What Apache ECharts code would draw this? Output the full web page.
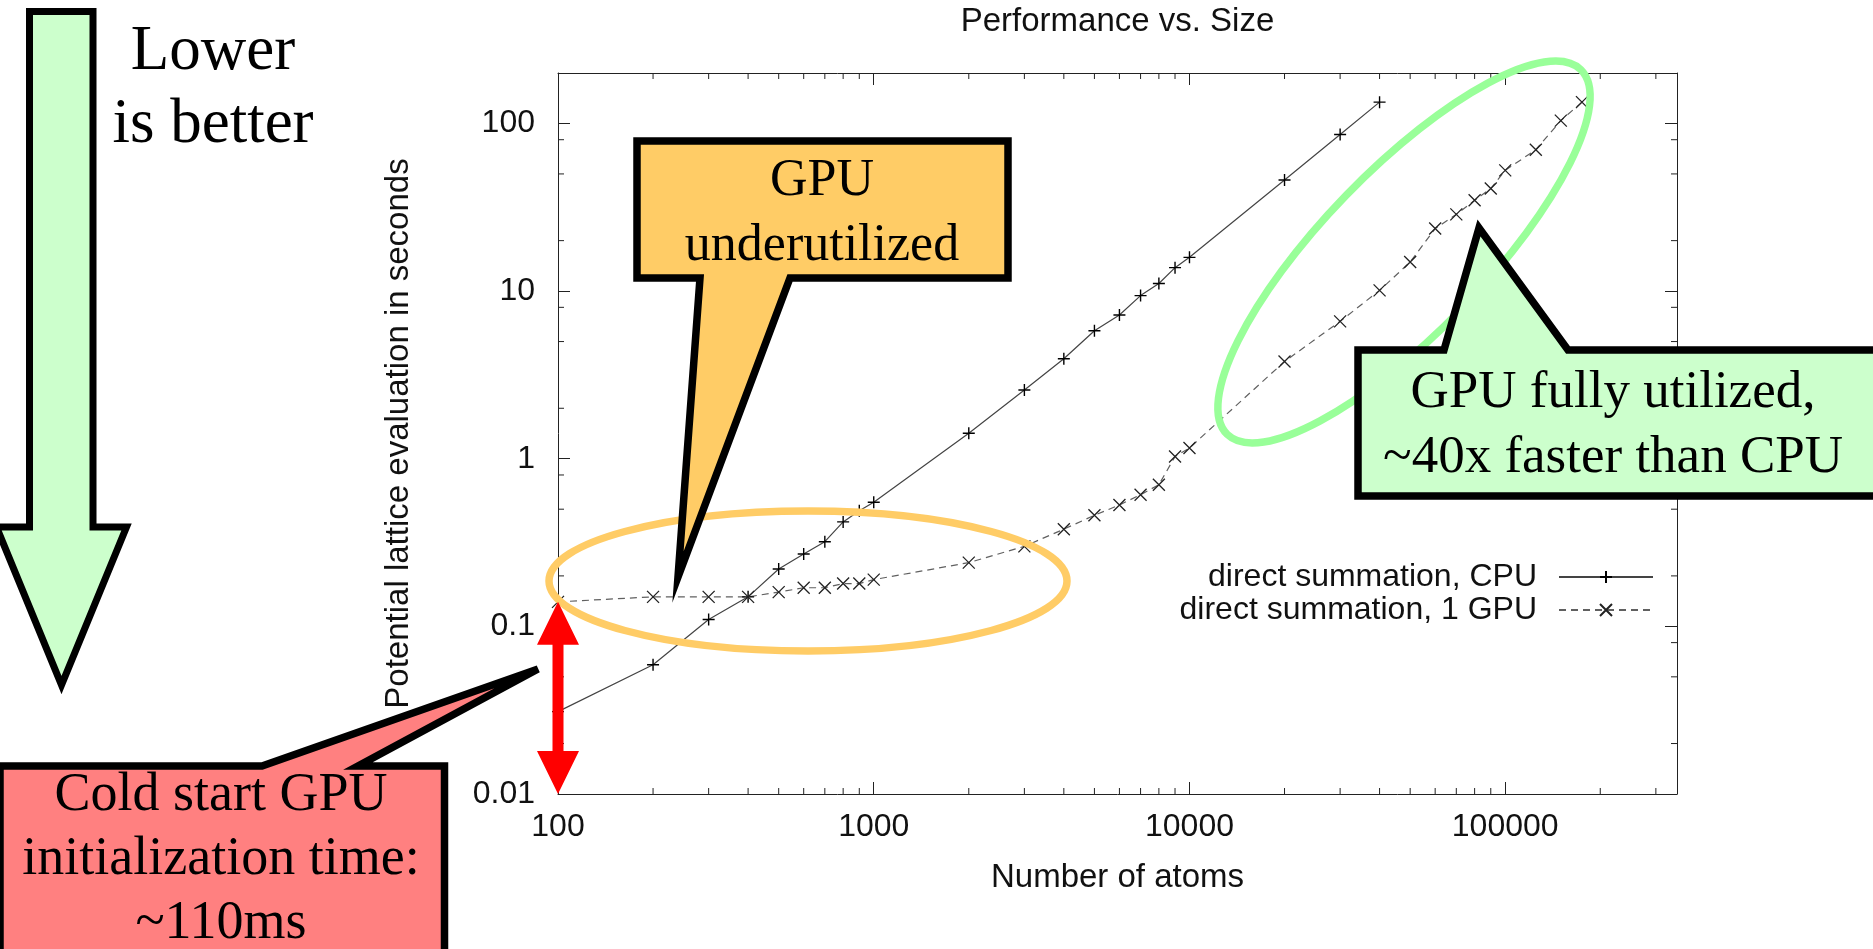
<!DOCTYPE html>
<html>
<head>
<meta charset="utf-8">
<script src="https://cdn.jsdelivr.net/npm/echarts@6/dist/echarts.min.js"></script>
<style>
html,body{margin:0;padding:0;background:#fff;}
#chart{width:1873px;height:949px;}
</style>
</head>
<body>
<div id="chart"></div>
<script>
// ---------- data ----------
const chartTitle = 'Performance vs. Size';
const xAxisTitle = 'Number of atoms';
const yAxisTitle = 'Potential lattice evaluation in seconds';
const cpuName = 'direct summation, CPU';
const gpuName = 'direct summation, 1 GPU';

const cpuAtoms   = [100, 200, 300, 400, 500, 600, 700, 800, 900, 1000, 2000, 3000, 4000, 5000, 6000, 7000, 8000, 9000, 10000, 20000, 30000, 40000];
const cpuSeconds = [0.031, 0.059, 0.11, 0.15, 0.22, 0.27, 0.32, 0.42, 0.49, 0.55, 1.42, 2.57, 3.95, 5.8, 7.2, 9.4, 11.1, 13.8, 15.9, 46, 86, 134];

const gpuAtoms   = [100, 200, 300, 400, 500, 600, 700, 800, 900, 1000, 2000, 3000, 4000, 5000, 6000, 7000, 8000, 9000, 10000, 20000, 30000, 40000, 50000, 60000, 70000, 80000, 90000, 100000, 125000, 150000, 175000];
const gpuSeconds = [0.14, 0.15, 0.15, 0.15, 0.16, 0.17, 0.17, 0.18, 0.18, 0.19, 0.24, 0.30, 0.38, 0.46, 0.53, 0.61, 0.70, 1.03, 1.16, 3.8, 6.6, 10.1, 14.9, 23.6, 28.7, 34.8, 40.9, 52.5, 69.7, 104, 134];

const xRange = [100, 350000];
const yRange = [0.01, 200];
const xTickValues = [100, 1000, 10000, 100000];
const xTickLabels = ['100', '1000', '10000', '100000'];
const yTickValues = [0.01, 0.1, 1, 10, 100];
const yTickLabels = ['0.01', '0.1', '1', '10', '100'];
const xMinorTicks = [200, 300, 400, 500, 600, 700, 800, 900,
                     2000, 3000, 4000, 5000, 6000, 7000, 8000, 9000,
                     20000, 30000, 40000, 50000, 60000, 70000, 80000, 90000,
                     200000, 300000];
const yMinorTicks = [0.02, 0.05, 0.08, 0.2, 0.5, 0.8, 2, 5, 8, 20, 50, 80];

const noteLower = 'Lower\nis better';
const noteUnder = 'GPU\nunderutilized';
const noteFull = 'GPU fully utilized,\n~40x faster than CPU';
const noteCold = 'Cold start GPU\ninitialization time:\n~110ms';

// ---------- helpers ----------
function labelFor(values, labels) {
  return function (v) {
    for (let i = 0; i < values.length; i++) {
      if (Math.abs(Math.log10(v) - Math.log10(values[i])) < 1e-6) return labels[i];
    }
    return '';
  };
}
const sansFont = 'Liberation Sans';
const serifFont = 'Liberation Serif';
const axisColor = '#222';

function logAxis(pos, range, showLabels, values, labels, extra) {
  return Object.assign({
    type: 'log',
    logBase: 10,
    position: pos,
    min: range[0],
    max: range[1],
    splitLine: { show: false },
    axisLine: { show: true, onZero: false, lineStyle: { color: axisColor, width: 1 } },
    axisTick: { show: true, inside: true, length: 12, lineStyle: { color: axisColor, width: 1 } },
    minorTick: { show: false },
    axisLabel: {
      show: showLabels,
      formatter: labelFor(values, labels),
      fontFamily: sansFont,
      fontSize: 32,
      color: '#111',
      showMaxLabel: false
    }
  }, extra || {});
}

const plusSymbol = 'path://M0,5L10,5M5,0L5,10';
const crossSymbol = 'path://M0,0L10,10M10,0L0,10';

const chart = echarts.init(document.getElementById('chart'), null, { renderer: 'canvas' });

const option = {
  animation: false,
  backgroundColor: '#fff',
  title: {
    text: chartTitle,
    left: 1117.5,
    top: 5,
    padding: 0,
    textAlign: 'center',
    textStyle: { fontFamily: sansFont, fontSize: 33, fontWeight: 'normal', color: '#111' }
  },
  grid: { left: 558, right: 196, top: 73, bottom: 155, containLabel: false },
  legend: {
    data: [cpuName, gpuName],
    orient: 'vertical',
    right: 219,
    top: 560.5,
    align: 'right',
    itemWidth: 94,
    itemHeight: 15,
    itemGap: 0,
    padding: 0,
    selectedMode: false,
    textStyle: { fontFamily: sansFont, fontSize: 32, lineHeight: 33, color: '#111', padding: [0, 17, 0, 0] }
  },
  xAxis: [
    logAxis('bottom', xRange, true, xTickValues, xTickLabels, {
      name: xAxisTitle,
      nameLocation: 'middle',
      nameGap: 67,
      nameTextStyle: { fontFamily: sansFont, fontSize: 33, color: '#111' },
      axisLabel: {
        show: true, formatter: labelFor(xTickValues, xTickLabels),
        fontFamily: sansFont, fontSize: 32, color: '#111', margin: 17, showMaxLabel: false
      }
    }),
    logAxis('top', xRange, false, xTickValues, xTickLabels)
  ],
  yAxis: [
    logAxis('left', yRange, true, yTickValues, yTickLabels, {
      name: yAxisTitle,
      nameLocation: 'middle',
      nameGap: 143,
      nameTextStyle: { fontFamily: sansFont, fontSize: 33, color: '#111' },
      axisLabel: {
        show: true, formatter: labelFor(yTickValues, yTickLabels),
        fontFamily: sansFont, fontSize: 32, color: '#111', margin: 23, showMaxLabel: false
      }
    }),
    logAxis('right', yRange, false, yTickValues, yTickLabels)
  ],
  series: [
    {
      name: cpuName,
      type: 'line',
      xAxisIndex: 0, yAxisIndex: 0,
      data: cpuAtoms.map((x, i) => [x, cpuSeconds[i]]),
      symbol: plusSymbol,
      symbolSize: 12,
      showSymbol: true,
      lineStyle: { color: '#444', width: 1.2, type: 'solid' },
      itemStyle: { color: '#000', borderColor: '#000', borderWidth: 1.4 },
      emphasis: { disabled: true },
      z: 3
    },
    {
      name: gpuName,
      type: 'line',
      xAxisIndex: 0, yAxisIndex: 0,
      data: gpuAtoms.map((x, i) => [x, gpuSeconds[i]]),
      symbol: crossSymbol,
      symbolSize: 12,
      showSymbol: true,
      lineStyle: { color: '#606060', width: 1.2, type: [7, 5] },
      itemStyle: { color: '#222', borderColor: '#222', borderWidth: 1.3 },
      emphasis: { disabled: true },
      z: 3
    },
    {
      type: 'custom',
      xAxisIndex: 0, yAxisIndex: 0,
      data: xMinorTicks.map(v => [v, yRange[0]]),
      encode: { x: 0, y: 1 },
      silent: true,
      renderItem: function (params, api) {
        const cs = params.coordSys;
        const x = api.coord([api.value(0), yRange[0]])[0];
        const b = cs.y + cs.height, t = cs.y;
        return {
          type: 'group',
          children: [
            { type: 'line', shape: { x1: x, y1: b, x2: x, y2: b - 6 }, style: { stroke: axisColor, lineWidth: 1 } },
            { type: 'line', shape: { x1: x, y1: t, x2: x, y2: t + 6 }, style: { stroke: axisColor, lineWidth: 1 } }
          ]
        };
      },
      z: 2
    },
    {
      type: 'custom',
      xAxisIndex: 0, yAxisIndex: 0,
      data: yMinorTicks.map(v => [xRange[0], v]),
      encode: { x: 0, y: 1 },
      silent: true,
      renderItem: function (params, api) {
        const cs = params.coordSys;
        const y = api.coord([xRange[0], api.value(1)])[1];
        const l = cs.x, r = cs.x + cs.width;
        return {
          type: 'group',
          children: [
            { type: 'line', shape: { x1: l, y1: y, x2: l + 6, y2: y }, style: { stroke: axisColor, lineWidth: 1 } },
            { type: 'line', shape: { x1: r, y1: y, x2: r - 6, y2: y }, style: { stroke: axisColor, lineWidth: 1 } }
          ]
        };
      },
      z: 2
    }
  ]
};

chart.setOption(option);

// ---------- annotations ----------
const top0 = chart.convertToPixel({ xAxisIndex: 0, yAxisIndex: 0 }, [gpuAtoms[0], gpuSeconds[0]]);
const bot0 = chart.convertToPixel({ xAxisIndex: 0, yAxisIndex: 0 }, [gpuAtoms[0], yRange[0]]);
const ax = top0[0], ay1 = top0[1], ay2 = bot0[1];
const headH = 43, headW = 21, shaftW = 5.5;
const redArrow = [
  [ax, ay1], [ax + headW, ay1 + headH], [ax + shaftW, ay1 + headH],
  [ax + shaftW, ay2 - headH], [ax + headW, ay2 - headH], [ax, ay2],
  [ax - headW, ay2 - headH], [ax - shaftW, ay2 - headH],
  [ax - shaftW, ay1 + headH], [ax - headW, ay1 + headH]
];

const outline = { stroke: '#000', lineJoin: 'miter', miterLimit: 10 };

chart.setOption({
  graphic: [
    // big "lower is better" arrow
    {
      type: 'polygon', z: 100,
      shape: { points: [[29.5, 11.5], [93, 11.5], [93, 527], [126.5, 527], [61.5, 685], [-3.5, 527], [29.5, 527]] },
      style: Object.assign({ fill: '#ccffcc', lineWidth: 7 }, outline)
    },
    {
      type: 'text', z: 101,
      style: { text: noteLower, x: 213, y: 89, fontFamily: serifFont, fontSize: 63, lineHeight: 73,
               fill: '#000', textAlign: 'center', textVerticalAlign: 'middle', align: 'center', verticalAlign: 'middle' }
    },
    // orange ellipse
    {
      type: 'ellipse', z: 100,
      shape: { cx: 808, cy: 581, rx: 259, ry: 70 },
      style: { fill: 'none', stroke: '#ffcc66', lineWidth: 7.5 }
    },
    // green ellipse
    {
      type: 'ellipse', z: 100,
      x: 1404, y: 252, rotation: 45.9 * Math.PI / 180,
      shape: { cx: 0, cy: 0, rx: 254, ry: 81 },
      style: { fill: 'none', stroke: '#99ff99', lineWidth: 7.5 }
    },
    // orange callout
    {
      type: 'polygon', z: 102,
      shape: { points: [[637, 141], [1008, 141], [1008, 278], [790, 278], [678, 577], [700, 278], [637, 278]] },
      style: Object.assign({ fill: '#ffcc66', lineWidth: 7.5 }, outline)
    },
    {
      type: 'text', z: 103,
      style: { text: noteUnder, x: 822, y: 214, fontFamily: serifFont, fontSize: 52, lineHeight: 65,
               fill: '#000', textAlign: 'center', textVerticalAlign: 'middle', align: 'center', verticalAlign: 'middle' }
    },
    // green callout
    {
      type: 'polygon', z: 102,
      shape: { points: [[1358, 350], [1444, 350], [1479, 228], [1568, 350], [1885, 350], [1885, 496], [1358, 496]] },
      style: Object.assign({ fill: '#ccffcc', lineWidth: 7.5 }, outline)
    },
    {
      type: 'text', z: 103,
      style: { text: noteFull, x: 1613, y: 426, fontFamily: serifFont, fontSize: 53, lineHeight: 65,
               fill: '#000', textAlign: 'center', textVerticalAlign: 'middle', align: 'center', verticalAlign: 'middle' }
    },
    // red callout
    {
      type: 'polygon', z: 102,
      shape: { points: [[0, 766], [262, 766], [538, 669], [358, 766], [444.5, 766], [444.5, 965], [0, 965]] },
      style: Object.assign({ fill: '#ff8080', lineWidth: 7.5 }, outline)
    },
    {
      type: 'text', z: 103,
      style: { text: noteCold, x: 221, y: 860, fontFamily: serifFont, fontSize: 54, lineHeight: 64,
               fill: '#000', textAlign: 'center', textVerticalAlign: 'middle', align: 'center', verticalAlign: 'middle' }
    },
    // red double arrow
    {
      type: 'polygon', z: 104,
      shape: { points: redArrow },
      style: { fill: '#ff0000', stroke: 'none' }
    }
  ]
});
</script>
</body>
</html>
